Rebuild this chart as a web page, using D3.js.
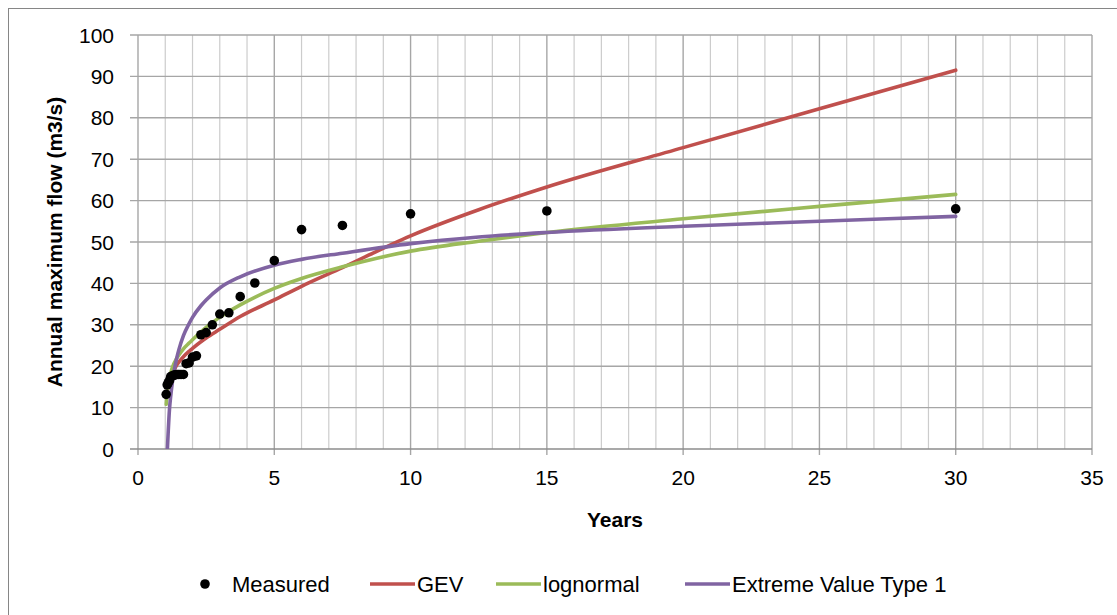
<!DOCTYPE html>
<html lang="en">
<head>
    <meta charset="UTF-8">
    <title>Annual maximum flow</title>
    <script src="https://d3js.org/d3.v7.min.js"></script>
    <style>
        body { margin: 0; background: #fff; }
        text {
            font-family: 'Liberation Sans', Arial, sans-serif;
            fill: #000;
        }
    </style>
</head>
<body>
<script>

    // measured annual maxima (return period in years, flow m3/s)
    const measuredYears = [30, 15, 10, 7.5, 6, 5, 4.286, 3.75, 3.333, 3, 2.727, 2.5, 2.308, 2.143, 2,
        1.875, 1.765, 1.667, 1.579, 1.5, 1.429, 1.364, 1.304, 1.25, 1.2, 1.154, 1.111, 1.071, 1.034];
    const measuredFlow = [58.0, 57.5, 56.8, 54.0, 53.0, 45.5, 40.1, 36.8, 32.9, 32.6, 30.0, 28.1, 27.6, 22.5, 22.2,
        20.8, 20.6, 18.0, 18.0, 18.0, 18.0, 17.9, 17.8, 17.6, 17.5, 16.5, 16.0, 15.5, 13.2];

    // fitted distributions, read at these return periods
    const curveYears = [1.034, 1.071, 1.111, 1.154, 1.2, 1.25, 1.304, 1.364, 1.429, 1.5, 1.667, 1.875, 2,
        2.308, 2.5, 3, 3.75, 5, 6, 7.5, 10, 12.5, 15, 20, 25, 30];
    const gev = [12.5, 14, 15, 16, 17, 18, 18.8, 19.6, 20.4, 21, 22.3, 23.6, 24.3,
        25.9, 26.8, 28.9, 32, 36, 39.3, 43.8, 51.5, 57.8, 63.3, 72.8, 82.2, 91.5];
    const lognormal = [10.8, 13.5, 15.5, 17, 18.3, 19.5, 20.4, 21.2, 22, 22.7, 24.2, 25.6, 26.4,
        28.3, 29.4, 31.8, 34.8, 38.8, 41.2, 44, 47.8, 50.2, 52.3, 55.6, 58.6, 61.5];
    const ev1 = [-8, -1, 4.5, 9.5, 12.8, 15.6, 18.0, 20.2, 22.2, 24.0, 27.4, 30.3, 31.8,
        34.6, 36.0, 38.9, 41.6, 44.4, 45.8, 47.3, 49.6, 51.2, 52.3, 53.8, 55.0, 56.2];

    const xTicks = [0, 5, 10, 15, 20, 25, 30, 35];
    const xMinor = d3.range(0, 36, 1);
    const yTicks = [0, 10, 20, 30, 40, 50, 60, 70, 80, 90, 100];

    const seriesNames = ['Measured', 'GEV', 'lognormal', 'Extreme Value Type 1'];
    const seriesColors = ['#000000', '#C0504D', '#9BBB59', '#8064A2'];

    const width = 1117;
    const height = 615;
    const plot = {left: 138, right: 1092, top: 35, bottom: 449};

    const x = d3.scaleLinear().domain([0, 35]).range([plot.left, plot.right]);
    const y = d3.scaleLinear().domain([0, 100]).range([plot.bottom, plot.top]);

    const svg = d3.select("body")
            .append("svg")
            .attr("width", width)
            .attr("height", height);

    // chart frame
    svg.append("rect")
            .attr("x", 8.5).attr("y", 8.5)
            .attr("width", 1200).attr("height", 700)
            .attr("fill", "none")
            .attr("stroke", "#868686");

    // minor vertical grid
    svg.append("g")
            .selectAll("line")
            .data(xMinor.filter(d => d % 5 !== 0))
            .enter().append("line")
            .attr("x1", d => x(d)).attr("x2", d => x(d))
            .attr("y1", plot.top).attr("y2", plot.bottom)
            .attr("stroke", "#cccccc").attr("stroke-width", 1.2);

    // major vertical grid
    svg.append("g")
            .selectAll("line")
            .data(xTicks)
            .enter().append("line")
            .attr("x1", d => x(d)).attr("x2", d => x(d))
            .attr("y1", plot.top).attr("y2", plot.bottom + 6)
            .attr("stroke", "#a6a6a6").attr("stroke-width", 1.4);

    // horizontal grid
    svg.append("g")
            .selectAll("line")
            .data(yTicks)
            .enter().append("line")
            .attr("x1", plot.left - 8).attr("x2", plot.right)
            .attr("y1", d => y(d)).attr("y2", d => y(d))
            .attr("stroke", d => d === 0 ? "#8c8c8c" : "#a6a6a6").attr("stroke-width", 1.4);

    // tick labels
    svg.append("g")
            .selectAll("text")
            .data(yTicks)
            .enter().append("text")
            .attr("x", 114)
            .attr("y", d => y(d))
            .attr("dy", "0.36em")
            .attr("text-anchor", "end")
            .style("font-size", "21px")
            .text(d => d);

    svg.append("g")
            .selectAll("text")
            .data(xTicks)
            .enter().append("text")
            .attr("x", d => x(d))
            .attr("y", 485)
            .attr("text-anchor", "middle")
            .style("font-size", "21px")
            .text(d => d);

    // axis titles
    svg.append("text")
            .attr("transform", "translate(62," + (plot.top + plot.bottom) / 2 + ") rotate(-90)")
            .attr("text-anchor", "middle")
            .style("font-size", "21px")
            .style("font-weight", "bold")
            .text("Annual maximum flow (m3/s)");

    svg.append("text")
            .attr("x", (plot.left + plot.right) / 2)
            .attr("y", 527)
            .attr("text-anchor", "middle")
            .style("font-size", "21px")
            .style("font-weight", "bold")
            .text("Years");

    // curves
    svg.append("clipPath").attr("id", "clip")
            .append("rect")
            .attr("x", plot.left).attr("y", plot.top)
            .attr("width", plot.right - plot.left).attr("height", plot.bottom - plot.top);

    const line = d3.line()
            .x(d => x(d[0]))
            .y(d => y(d[1]))
            .curve(d3.curveMonotoneX);

    [gev, lognormal, ev1].forEach((vals, i) => {
        svg.append("path")
                .datum(curveYears.map((t, j) => [t, vals[j]]))
                .attr("clip-path", "url(#clip)")
                .attr("fill", "none")
                .attr("stroke", seriesColors[i + 1])
                .attr("stroke-width", 3.6)
                .attr("stroke-linecap", "round")
                .attr("d", line);
    });

    // measured points
    svg.append("g")
            .selectAll("circle")
            .data(measuredYears.map((t, j) => [t, measuredFlow[j]]))
            .enter().append("circle")
            .attr("cx", d => x(d[0]))
            .attr("cy", d => y(d[1]))
            .attr("r", 4.8)
            .attr("fill", "#000");

    // legend
    const legendX = [205, 370, 496, 685];
    const legend = svg.append("g");
    seriesNames.forEach((name, i) => {
        const g = legend.append("g").attr("transform", "translate(" + legendX[i] + ",584)");
        if (i === 0) {
            g.append("circle").attr("cx", 0).attr("cy", 0).attr("r", 4.8).attr("fill", "#000");
        } else {
            g.append("line").attr("x1", 0).attr("x2", 45)
                    .attr("y1", 0).attr("y2", 0)
                    .attr("stroke", seriesColors[i]).attr("stroke-width", 3.6);
        }
        g.append("text")
                .attr("x", i === 0 ? 27 : 47)
                .attr("dy", "0.36em")
                .style("font-size", "22px")
                .text(name);
    });

</script>
</body>
</html>
